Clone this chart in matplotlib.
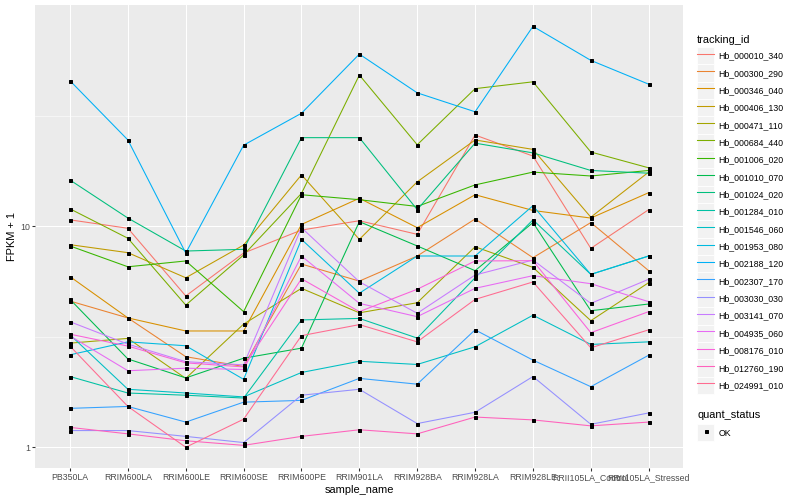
import numpy as np
import matplotlib
matplotlib.use("Agg")
import matplotlib.pyplot as plt
from matplotlib.lines import Line2D
from matplotlib.patches import Rectangle
from matplotlib.legend_handler import HandlerLine2D
from matplotlib.ticker import FixedLocator, NullFormatter

plt.rcParams['font.family'] = ['Liberation Sans', 'DejaVu Sans']

# samples on the x axis
samples = ['PB350LA', 'RRIM600LA', 'RRIM600LE', 'RRIM600SE', 'RRIM600PE',
           'RRIM901LA', 'RRIM928BA', 'RRIM928LA', 'RRIM928LE',
           'RRII105LA_Control', 'RRII105LA_Stressed']

# FPKM + 1 for each gene
hb_000010_340 = [10.7, 9.8, 4.84, 7.57, 9.62, 10.6, 9.2, 25.9, 20.8, 7.95, 11.9]
hb_000300_290 = [4.59, 3.85, 2.57, 2.32, 6.75, 5.65, 7.34, 10.8, 7.21, 10.4, 6.30]
hb_000346_040 = [5.92, 3.85, 3.36, 3.36, 10.2, 13.4, 9.86, 13.9, 11.8, 10.9, 14.2]
hb_000406_130 = [8.26, 7.60, 5.85, 8.23, 17.1, 8.73, 15.9, 24.6, 22.3, 11.0, 17.6]
hb_000471_110 = [2.96, 3.11, 2.05, 3.61, 5.24, 4.06, 4.51, 8.08, 6.52, 3.74, 5.56]
hb_000684_440 = [12.0, 8.83, 4.40, 7.42, 14.1, 48.4, 23.4, 42.0, 45.1, 21.7, 18.4]
hb_001006_020 = [8.15, 6.56, 6.97, 4.11, 13.9, 13.2, 12.3, 15.4, 17.6, 16.9, 17.9]
hb_001010_070 = [4.67, 2.51, 2.06, 2.53, 2.81, 10.5, 8.15, 6.30, 10.4, 4.15, 4.45]
hb_001024_020 = [16.2, 10.9, 7.73, 7.87, 25.2, 25.2, 11.9, 23.8, 21.5, 17.9, 17.4]
hb_001284_010 = [2.09, 1.76, 1.72, 1.67, 3.77, 3.83, 3.12, 5.85, 10.7, 6.06, 7.34]
hb_001546_060 = [3.23, 1.83, 1.76, 1.69, 2.18, 2.45, 2.37, 2.85, 3.96, 2.92, 3.00]
hb_001953_080 = [2.62, 3.00, 2.88, 2.03, 8.73, 4.98, 7.34, 7.34, 12.4, 6.06, 7.34]
hb_002188_120 = [45.6, 24.6, 7.57, 23.3, 32.5, 60.2, 40.2, 33.0, 80.4, 56.4, 44.0]
hb_002307_170 = [1.50, 1.53, 1.30, 1.60, 1.63, 2.05, 1.93, 3.40, 2.48, 1.88, 2.61]
hb_003030_030 = [1.19, 1.19, 1.12, 1.05, 1.72, 1.83, 1.28, 1.44, 2.09, 1.27, 1.43]
hb_003141_070 = [3.70, 2.93, 2.44, 2.36, 9.86, 5.61, 4.04, 6.02, 7.04, 4.48, 5.76]
hb_004935_060 = [3.19, 2.22, 2.28, 2.25, 7.34, 4.48, 3.90, 5.24, 5.98, 5.50, 4.56]
hb_008176_010 = [3.25, 2.87, 2.41, 2.31, 5.79, 4.11, 5.19, 6.97, 6.99, 3.30, 4.11]
hb_012760_190 = [1.23, 1.15, 1.07, 1.02, 1.12, 1.20, 1.15, 1.37, 1.33, 1.25, 1.30]
hb_024991_010 = [2.87, 1.53, 1.00, 1.34, 3.20, 3.59, 3.00, 4.67, 5.60, 2.82, 3.40]

tracking_ids = ['Hb_000010_340', 'Hb_000300_290', 'Hb_000346_040', 'Hb_000406_130',
                'Hb_000471_110', 'Hb_000684_440', 'Hb_001006_020', 'Hb_001010_070',
                'Hb_001024_020', 'Hb_001284_010', 'Hb_001546_060', 'Hb_001953_080',
                'Hb_002188_120', 'Hb_002307_170', 'Hb_003030_030', 'Hb_003141_070',
                'Hb_004935_060', 'Hb_008176_010', 'Hb_012760_190', 'Hb_024991_010']

series = [hb_000010_340, hb_000300_290, hb_000346_040, hb_000406_130,
          hb_000471_110, hb_000684_440, hb_001006_020, hb_001010_070,
          hb_001024_020, hb_001284_010, hb_001546_060, hb_001953_080,
          hb_002188_120, hb_002307_170, hb_003030_030, hb_003141_070,
          hb_004935_060, hb_008176_010, hb_012760_190, hb_024991_010]

# ggplot hue palette, 20 levels
colors = ['#F8766D', '#EA8331', '#D89000', '#C09B00', '#A3A500', '#7CAE00',
          '#39B600', '#00BB4E', '#00BF7D', '#00C1A3', '#00BFC4', '#00BAE0',
          '#00B0F6', '#35A2FF', '#9590FF', '#C77CFF', '#E76BF3', '#FA62DB',
          '#FF62BC', '#FF6C91']


class KeyHandler(HandlerLine2D):
    """legend key with the grey ggplot box behind it"""
    def create_artists(self, legend, orig_handle, xdescent, ydescent,
                       width, height, fontsize, trans):
        arts = super().create_artists(legend, orig_handle, xdescent, ydescent,
                                      width, height, fontsize, trans)
        bg = Rectangle((-xdescent, -ydescent - 2), width, height + 4, facecolor='#F2F2F2',
                       edgecolor='white', lw=0.8, transform=trans)
        return [bg] + list(arts)


W, H = 800, 500
fig = plt.figure(figsize=(W / 72, H / 72), dpi=72)
left, right, top, bottom = 35.3, 683.4, 5.3, 468.3
ax = fig.add_axes([left / W, 1 - bottom / H, (right - left) / W, (bottom - top) / H])
ax.set_facecolor('#EBEBEB')
for s in ax.spines.values():
    s.set_visible(False)

x = np.arange(len(samples))
for vals, c in zip(series, colors):
    ax.plot(x, vals, color=c, lw=1.07, zorder=3)
for vals in series:
    ax.plot(x, vals, ls='none', marker='s', ms=3.0, color='black', zorder=4)

ax.set_yscale('log')
logs = np.log10(np.concatenate([np.array(v) for v in series]))
pad = 0.05 * (logs.max() - logs.min())
ax.set_ylim(10 ** (logs.min() - pad), 10 ** (logs.max() + pad))
ax.set_xlim(-0.6, len(samples) - 0.4)

ax.yaxis.set_major_locator(FixedLocator([1, 10]))
ax.set_yticklabels(['1', '10'])
ax.yaxis.set_minor_locator(FixedLocator([10 ** 0.5, 10 ** 1.5]))
ax.yaxis.set_minor_formatter(NullFormatter())
ax.set_xticks(x)
ax.set_xticklabels(samples)

ax.grid(which='major', color='white', lw=1.07, zorder=1)
ax.grid(which='minor', axis='y', color='white', lw=0.53, zorder=1)
ax.set_axisbelow(True)
ax.tick_params(axis='both', which='major', length=2.75, width=1.07, color='#333333',
               labelcolor='#4D4D4D', labelsize=8.8, pad=2.2)
ax.tick_params(axis='y', which='minor', length=0)

ax.set_xlabel('sample_name', fontsize=11, labelpad=2.75)
ax.set_ylabel('FPKM + 1', fontsize=11, labelpad=3.5)

handles = [Line2D([], [], color=c, lw=1.07) for c in colors]
fig.legend(handles, tracking_ids, loc='upper left', bbox_to_anchor=(697 / W, 1 - 35 / H),
           frameon=False, title='tracking_id', title_fontsize=11, fontsize=8.8,
           handlelength=17.28 / 8.8, handleheight=17.28 / 8.8, labelspacing=0.45,
           handletextpad=0.5, borderpad=0, borderaxespad=0, alignment='left',
           handler_map={Line2D: KeyHandler()})

ok_handle = Line2D([], [], ls='none', marker='s', ms=3.0, color='black')
fig.legend([ok_handle], ['OK'], loc='upper left', bbox_to_anchor=(697 / W, 1 - 409.5 / H),
           frameon=False, title='quant_status', title_fontsize=11, fontsize=8.8,
           handlelength=17.28 / 8.8, handleheight=17.28 / 8.8, labelspacing=0.75,
           handletextpad=0.5, borderpad=0, borderaxespad=0, alignment='left',
           handler_map={Line2D: KeyHandler()})

fig.savefig('out.png', dpi=72)
